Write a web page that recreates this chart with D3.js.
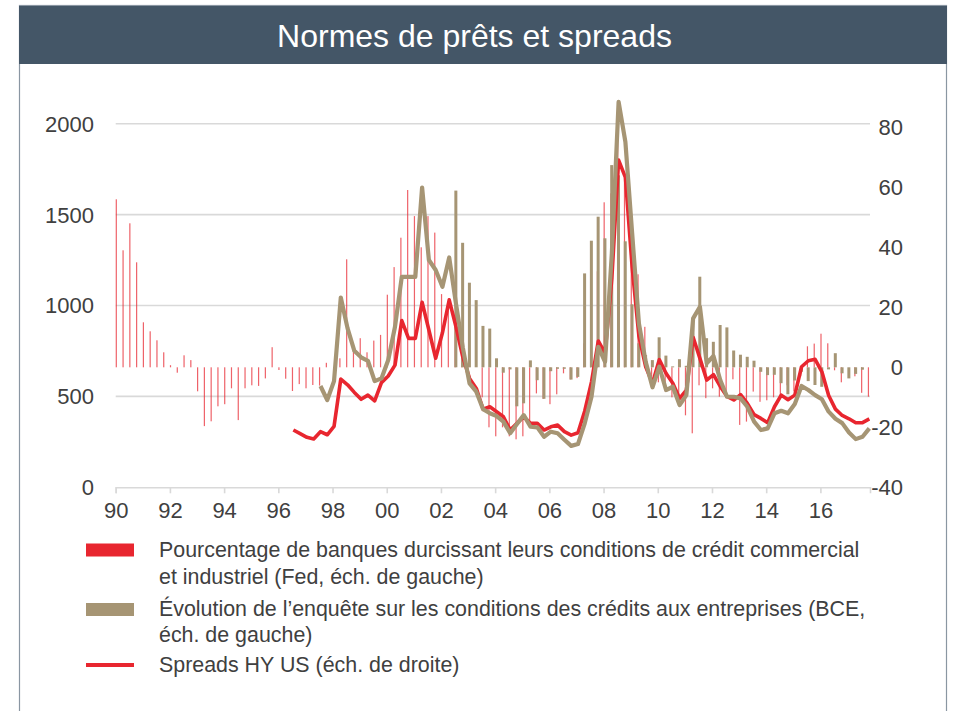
<!DOCTYPE html>
<html>
<head>
<meta charset="utf-8">
<script src="https://cdn.jsdelivr.net/npm/d3@7/dist/d3.min.js"></script>
<style>
  html, body { margin: 0; padding: 0; background: #ffffff; }
  svg { display: block; font-family: "Liberation Sans", Arial, sans-serif; }
</style>
</head>
<body>
<svg id="chart" width="957" height="711"></svg>
<script>
// Quarterly series, first value at 1990 Q1 (quarter index 0)
const fedStart = 1990;
// Fed SLOOS: net % of banks tightening C&I standards
const fedTightening = [
  56, 39, 48, 35, 15, 12, 9, 5, 0.7, -1.8, 4, 2.4,
  -8, -19.6, -18, -13, -12.3, -7, -17.6, -7, -6, -6.2, -3.7, 6.7,
  -0.9, -3.8, -7.9, -5.6, -7, -5.9, -6.1, 1.5, 0, 3, 36, 7,
  9.7, 5, 8.9, 10.8, 24.2, 33.4, 43.2, 59.1, 50.4, 40, 50.4, 44.9,
  24.4, 20, 15, 10, 5, 0, -10, -20, -23, -20, -23, -24,
  -23, -18.7, -8.7, -10.5, -12.3, -9, -2, -4, -3.6, 8, 18, 32,
  55, 58, 84, 65, 40, 31, 13.5, -3, -5, -8, -10, -11,
  -16, -22, -6, -10.3, -7, -9.8, -10.3, -4, -19.2, -18.1, -8.1, -11.5,
  -11, -10, -10.3, -6, -8, -3, 7, 7.9, 11.2, 8, -1, -5,
  0, -3, -8.5, -9.8
];

// ECB bank lending survey: change in credit standards to enterprises
const ecbStart = 2002.5;
const ecbStandards = [
  58.9, 41.5, 28.2, 22.4, 13.8, 12.9, 3, -1.8, -0.7, -13, -12, 2.3,
  -4.3, -10.5, -1.3, -0.5, -0.5, -4.1, -3.2, 31.3, 42.2, 50.2, 43, 67.4,
  64, 42, 21, 8, 4.1, 2.4, 10, 3.9, 0.3, 2.7, 0.5, 16.3,
  30.2, 9.7, 8.5, 14.1, 13.3, 5.6, 4.2, 3.5, 2.2, -1.5, -2.6, -2.5,
  -5.3, -9, -4.4, -1.5, -4.6, -5.9, -6.5, -0.7, 4.7, -2, -3.7, -2.2,
  -0.8
];

// US high-yield spreads (bp)
const usSpreadStart = 1996.5;
const usSpreads = [
  315, 295, 275, 266, 306, 289, 335, 595, 564, 522, 484, 507,
  475, 576, 612, 672, 917, 819, 819, 1018, 865, 710, 850, 1031,
  883, 718, 599, 544, 429, 443, 416, 388, 315, 352, 388, 352,
  352, 315, 333, 342, 306, 287, 300, 420, 580, 805, 737, 1150,
  1800, 1705, 1210, 830, 663, 572, 702, 627, 572, 489, 535, 825,
  709, 590, 620, 555, 500, 480, 510, 462, 400, 379, 355, 443,
  507, 482, 507, 663, 696, 704, 635, 505, 430, 395, 377, 355,
  356, 376
];

// Euro high-yield spreads (bp)
const euroSpreadStart = 1997.5;
const euroSpreads = [
  557, 480, 584, 1044, 874, 751, 715, 696, 584, 599, 700, 883,
  1158, 1158, 1158, 1649, 1250, 1195, 1103, 1264, 1010, 770, 572, 526,
  429, 407, 392, 361, 297, 348, 397, 333, 330, 278, 306, 297,
  262, 228, 238, 352, 498, 773, 690, 1286, 2120, 1900, 1396, 900,
  690, 550, 663, 535, 553, 452, 507, 929, 993, 682, 722, 590,
  498, 498, 489, 443, 361, 315, 324, 407, 421, 407, 458, 557,
  535, 507, 484, 416, 377, 353, 302, 265, 278, 324
];

const leftTicks = [0, 500, 1000, 1500, 2000];
const rightTicks = [-40, -20, 0, 20, 40, 60, 80];
const yearTicks = d3.range(1990, 2017, 2);

const titleText = "Normes de prêts et spreads";
const legendItems = [
  { kind: "bar", color: "#e8262f",
    lines: ["Pourcentage de banques durcissant leurs conditions de crédit commercial",
            "et industriel (Fed, éch. de gauche)"] },
  { kind: "bar", color: "#a69574",
    lines: ["Évolution de l\u2019enquête sur les conditions des crédits aux entreprises (BCE,",
            "éch. de gauche)"] },
  { kind: "line", color: "#e8262f",
    lines: ["Spreads HY US (éch. de droite)"] }
];

// ---------------------------------------------------------------
const toSeries = (start, values) => values.map((v, i) => ({ t: start + i / 4, v }));
const fed = toSeries(fedStart, fedTightening);
const ecb = toSeries(ecbStart, ecbStandards);
const us = toSeries(usSpreadStart, usSpreads);
const eu = toSeries(euroSpreadStart, euroSpreads);

const svg = d3.select("#chart");
const textColor = "#404040";
const gridColor = "#d9d9d9";
const red = "#e8262f";
const olive = "#a69574";

const x = d3.scaleLinear().domain([1990, 2017.83]).range([115.7, 870]);
const yL = d3.scaleLinear().domain([0, 2000]).range([487.3, 123.7]);
const yR = d3.scaleLinear().domain([-40, 80]).range([487.3, 127.3]);

// frame and title band
svg.append("rect").attr("x", 19.5).attr("y", 5.5).attr("width", 927).attr("height", 720)
  .attr("fill", "none").attr("stroke", "#8a96a2").attr("stroke-width", 1.2);
svg.append("rect").attr("x", 19).attr("y", 6).attr("width", 928).attr("height", 58)
  .attr("fill", "#445667");
svg.append("text").attr("x", 474.5).attr("y", 47).attr("text-anchor", "middle")
  .attr("fill", "#ffffff").attr("font-size", 32).text(titleText);

// horizontal grid (left scale)
svg.append("g").selectAll("line").data(leftTicks.filter(d => d > 0)).join("line")
  .attr("x1", x.range()[0]).attr("x2", x.range()[1])
  .attr("y1", d => yL(d)).attr("y2", d => yL(d))
  .attr("stroke", gridColor).attr("stroke-width", 1.6);

// x axis
const xAxis = d3.axisBottom(x).tickValues(yearTicks).tickSize(6).tickPadding(9.5)
  .tickFormat(d => String(d % 100).padStart(2, "0"));
const gx = svg.append("g").attr("transform", `translate(0,${yL(0)})`).call(xAxis);
gx.select(".domain").attr("stroke", gridColor).attr("stroke-width", 1.6);
gx.selectAll(".tick line").attr("stroke", gridColor).attr("stroke-width", 1.6);
gx.selectAll(".tick text").attr("fill", textColor).attr("font-size", 22)
  .attr("font-family", "Liberation Sans, Arial, sans-serif");

// left axis labels
svg.append("g").selectAll("text").data(leftTicks).join("text")
  .attr("x", 94).attr("y", d => yL(d)).attr("dy", "0.36em")
  .attr("text-anchor", "end").attr("fill", textColor).attr("font-size", 22)
  .text(d => d);

// right axis labels
svg.append("g").selectAll("text").data(rightTicks).join("text")
  .attr("x", 903).attr("y", d => yR(d)).attr("dy", "0.36em")
  .attr("text-anchor", "end").attr("fill", textColor).attr("font-size", 22)
  .text(d => d);

// Fed bars (right scale)
svg.append("g").selectAll("rect").data(fed).join("rect")
  .attr("x", d => x(d.t + 0.022) - 0.6)
  .attr("width", 1.2)
  .attr("y", d => Math.min(yR(d.v), yR(0)))
  .attr("height", d => Math.abs(yR(d.v) - yR(0)))
  .attr("fill", red).attr("fill-opacity", 0.72);

// ECB bars (right scale)
svg.append("g").selectAll("rect").data(ecb).join("rect")
  .attr("x", d => x(d.t + 0.05) - 1.5)
  .attr("width", 3)
  .attr("y", d => Math.min(yR(d.v), yR(0)))
  .attr("height", d => Math.max(0.8, Math.abs(yR(d.v) - yR(0))))
  .attr("fill", olive);

// spread lines (left scale)
const line = d3.line().x(d => x(d.t + 0.055)).y(d => yL(d.v));
svg.append("path").datum(us).attr("d", line)
  .attr("fill", "none").attr("stroke", red).attr("stroke-width", 3.6)
  .attr("stroke-linejoin", "round");
svg.append("path").datum(eu).attr("d", line)
  .attr("fill", "none").attr("stroke", olive).attr("stroke-width", 4.2)
  .attr("stroke-linejoin", "round");

// legend
const legendRows = [
  { y0: 550, baselines: [557, 584] },
  { y0: 609.5, baselines: [616, 642] },
  { y0: 665, baselines: [672] }
];
const lg = svg.append("g");
legendItems.forEach((item, i) => {
  const row = legendRows[i];
  if (item.kind === "bar") {
    lg.append("rect").attr("x", 86).attr("y", row.y0 - 6.5).attr("width", 48).attr("height", 13)
      .attr("fill", item.color);
  } else {
    lg.append("line").attr("x1", 86).attr("x2", 134).attr("y1", row.y0).attr("y2", row.y0)
      .attr("stroke", item.color).attr("stroke-width", 4);
  }
  item.lines.forEach((t, j) => {
    lg.append("text").attr("x", 159).attr("y", row.baselines[j])
      .attr("fill", textColor).attr("font-size", 21.4).text(t);
  });
});
</script>
</body>
</html>
